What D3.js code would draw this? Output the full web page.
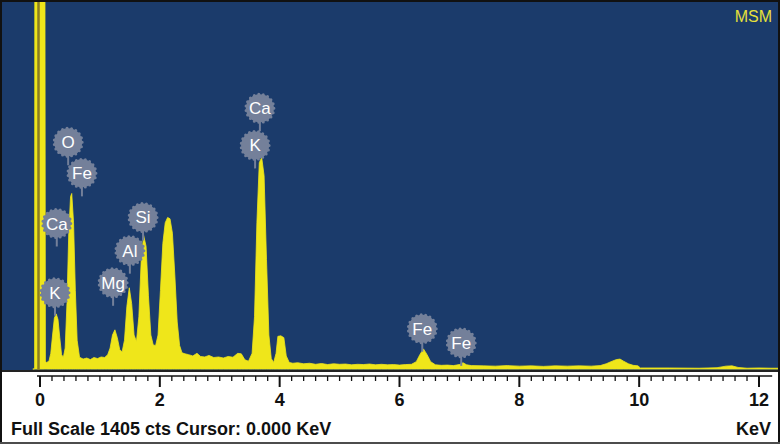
<!DOCTYPE html>
<html><head><meta charset="utf-8">
<script src="https://cdn.jsdelivr.net/npm/d3@7"></script>
<style>html,body{margin:0;padding:0;background:#fff;}svg{display:block;}</style>
</head><body>
<svg id="chart" width="780" height="444"></svg>
<script>
// ---- data ----
const energyKeV = [-0.12,-0.09,-0.083,0.075,0.09,0.11,0.15,0.18,0.21,0.24,0.27,0.30,0.33,0.36,0.39,0.42,0.45,0.48,0.51,0.53,0.56,0.59,0.62,0.66,0.72,0.78,0.84,0.90,0.96,1.02,1.08,1.13,1.17,1.21,1.25,1.29,1.33,1.37,1.41,1.45,1.49,1.53,1.57,1.61,1.65,1.69,1.73,1.77,1.81,1.85,1.89,1.93,1.97,2.01,2.05,2.09,2.13,2.17,2.21,2.25,2.29,2.33,2.37,2.42,2.48,2.55,2.62,2.68,2.75,2.82,2.90,2.98,3.06,3.14,3.22,3.30,3.36,3.42,3.48,3.54,3.58,3.62,3.66,3.70,3.74,3.78,3.82,3.86,3.90,3.94,3.97,4.02,4.07,4.11,4.16,4.22,4.30,4.40,4.50,4.60,4.70,4.80,4.90,5.00,5.10,5.20,5.30,5.40,5.50,5.60,5.70,5.80,5.90,6.00,6.10,6.20,6.28,6.34,6.40,6.46,6.52,6.60,6.70,6.80,6.90,7.00,7.06,7.12,7.20,7.40,7.60,7.80,8.00,8.20,8.40,8.60,8.80,9.00,9.20,9.35,9.45,9.55,9.62,9.68,9.74,9.82,9.90,9.98,10.02,10.50,11.00,11.30,11.45,11.55,11.65,11.80,12.00,12.20,12.35];
const countsCts = [0,0,3000,3000,30,25,30,60,130,195,211,190,120,55,45,80,250,520,660,672,560,300,110,45,38,42,36,44,40,46,44,55,80,130,150,120,75,65,110,240,311,250,130,105,200,420,511,470,280,130,92,90,130,300,480,560,580,575,520,360,180,90,62,58,55,50,60,48,46,52,44,46,42,48,45,60,58,35,30,60,200,560,790,810,740,420,130,40,25,60,125,127,120,50,25,22,24,20,22,18,21,17,20,18,19,16,18,17,19,16,18,16,17,15,17,18,28,55,77,55,28,16,14,15,13,17,24,16,13,12,11,13,11,12,10,12,11,12,11,13,20,30,36,38,30,20,14,12,4,4,3,5,11,12,6,3,4,3,3];
const xTickLabels = ["0","2","4","6","8","10","12"];
const peakNames  = ["O","Fe","Ca","K","Mg","Al","Si","Ca","K","Fe","Fe"];
const peakEnergy = [0.47,0.70,0.28,0.25,1.22,1.50,1.72,3.67,3.59,6.38,7.03];
const peakLabelCts = [868,749,557,292,330,453,580,998,856,154,100];
const fullScale = 1405;
const cursorKeV = 0.0;

// ---- layout ----
const W = 780, H = 444;
const plot = {l:2, t:2, r:778, b:370};
const svg = d3.select("#chart");
const x = d3.scaleLinear().domain([0,12]).range([40,759]);
const y = d3.scaleLinear().domain([0,fullScale]).range([369,2]);

const blue = "#1b3b6b", yellow = "#efe61a", bubble = "#74809a";

svg.append("rect").attr("x",0).attr("y",0).attr("width",W).attr("height",H).attr("fill","#fff");
svg.append("rect").attr("x",plot.l).attr("y",plot.t).attr("width",plot.r-plot.l).attr("height",plot.b-plot.t).attr("fill",blue);

svg.append("defs").append("clipPath").attr("id","clip")
  .append("rect").attr("x",plot.l).attr("y",plot.t).attr("width",plot.r-plot.l).attr("height",plot.b-plot.t);

const data = energyKeV.map((e,i)=>({e, c: countsCts[i]}));
const area = d3.area().x(d=>x(d.e)).y0(y(0)).y1(d=>y(d.c));
const g = svg.append("g").attr("clip-path","url(#clip)");
g.append("path").datum(data).attr("d",area).attr("fill",yellow).attr("stroke",yellow).attr("stroke-width",0.8);
// cursor line
g.append("line").attr("x1",x(cursorKeV)-1.5).attr("x2",x(cursorKeV)-1.5).attr("y1",plot.t).attr("y2",plot.b)
  .attr("stroke","#8a7d22").attr("stroke-width",2.5);

// MSM
svg.append("text").attr("x",772).attr("y",22).attr("text-anchor","end")
  .attr("font-family","Liberation Sans, Arial, sans-serif").attr("font-size",16).attr("fill","#e6e03a").text("MSM");

// peak labels
const lab = svg.append("g");
peakNames.forEach((n,i)=>{
  const cx = x(peakEnergy[i]), cy = y(peakLabelCts[i]);
  const gg = lab.append("g");
  gg.append("line").attr("x1",cx).attr("x2",cx).attr("y1",cy).attr("y2",cy+23).attr("stroke",bubble).attr("stroke-width",2);
  gg.append("circle").attr("cx",cx).attr("cy",cy).attr("r",14).attr("fill",bubble)
    .attr("stroke",bubble).attr("stroke-width",3).attr("stroke-dasharray","0 4.6").attr("stroke-linecap","round");
  gg.append("text").attr("x",cx).attr("y",cy+6).attr("text-anchor","middle")
    .attr("font-family","Liberation Sans, Arial, sans-serif").attr("font-size",17).attr("fill","#fff").text(n);
});

// separator
svg.append("line").attr("x1",plot.l).attr("x2",plot.r).attr("y1",371).attr("y2",371).attr("stroke","#222").attr("stroke-width",2);

// axis ruler
const axY = 376;
svg.append("line").attr("x1",x(-0.05)).attr("x2",x(12.22)).attr("y1",axY).attr("y2",axY).attr("stroke","#111").attr("stroke-width",1.5);
const minor = d3.range(0,61).map(i=>i*0.2).filter(v=>v<=12.21);
svg.append("g").selectAll("line").data(minor).join("line")
  .attr("x1",d=>x(d)).attr("x2",d=>x(d)).attr("y1",axY).attr("y2",d=>Math.abs(d/2-Math.round(d/2))<1e-6?387:381)
  .attr("stroke","#111").attr("stroke-width",d=>Math.abs(d/2-Math.round(d/2))<1e-6?2:1.3);
svg.append("g").selectAll("text").data(xTickLabels).join("text")
  .attr("x",d=>x(+d)).attr("y",406).attr("text-anchor","middle")
  .attr("font-family","Liberation Sans, Arial, sans-serif").attr("font-weight","bold").attr("font-size",18).attr("fill","#111").text(d=>d);

svg.append("text").attr("x",11).attr("y",435)
  .attr("font-family","Liberation Sans, Arial, sans-serif").attr("font-weight","bold").attr("font-size",18).attr("fill","#111")
  .text("Full Scale " + fullScale + " cts Cursor: " + cursorKeV.toFixed(3) + " KeV");
svg.append("text").attr("x",771).attr("y",435).attr("text-anchor","end")
  .attr("font-family","Liberation Sans, Arial, sans-serif").attr("font-weight","bold").attr("font-size",18).attr("fill","#111").text("KeV");

// frame
svg.append("rect").attr("x",1).attr("y",1).attr("width",W-2).attr("height",H-2).attr("fill","none").attr("stroke","#111").attr("stroke-width",2);
svg.append("line").attr("x1",0).attr("x2",W).attr("y1",443).attr("y2",443).attr("stroke","#888").attr("stroke-width",1);
</script>
</body></html>
